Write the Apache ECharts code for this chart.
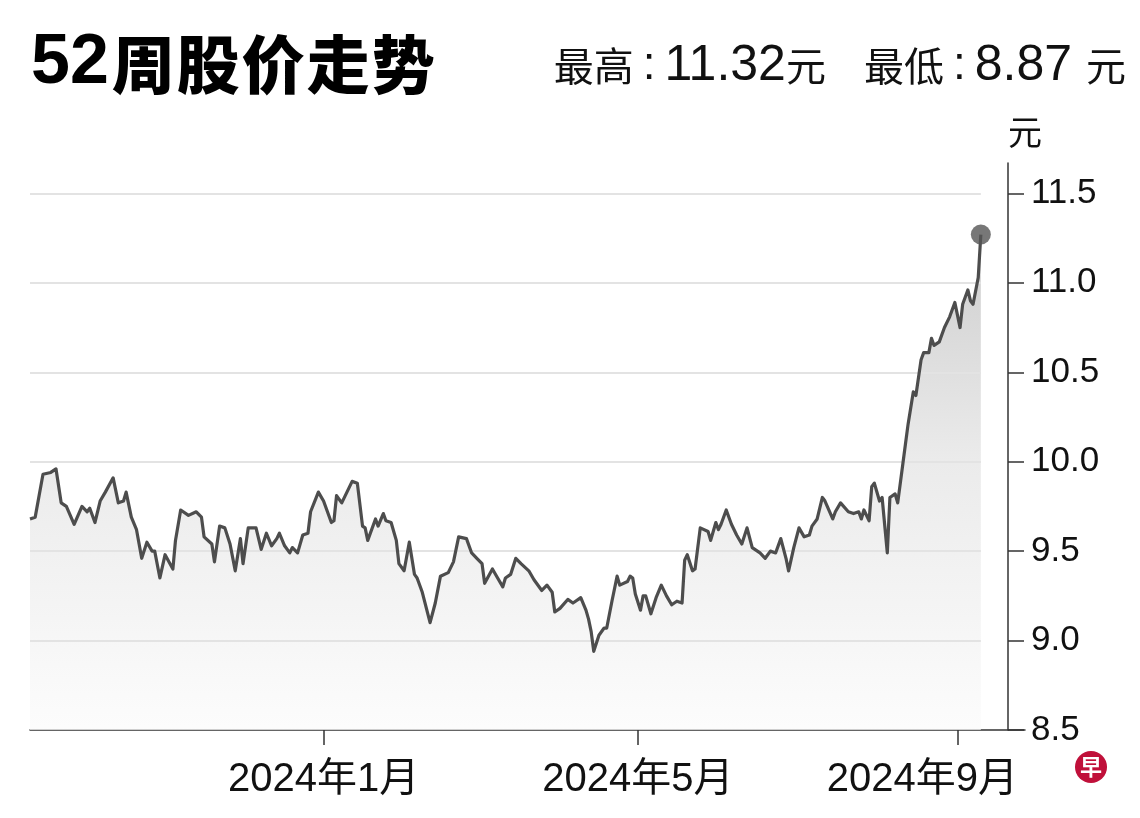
<!DOCTYPE html>
<html>
<head>
<meta charset="utf-8">
<script src="https://cdn.jsdelivr.net/npm/echarts@6/dist/echarts.min.js"></script>
<style>
html,body{margin:0;padding:0;background:#fff;}
#chart{width:1140px;height:818px;}
</style>
</head>
<body>
<div id="chart"></div>
<script>
const dates = [
'2023-09-10','2023-09-12','2023-09-15','2023-09-18','2023-09-20','2023-09-22','2023-09-24','2023-09-27','2023-09-30',
'2023-10-02','2023-10-03','2023-10-05','2023-10-07','2023-10-09','2023-10-12','2023-10-14','2023-10-16','2023-10-17',
'2023-10-19','2023-10-21','2023-10-23','2023-10-25','2023-10-27','2023-10-28','2023-10-30',
'2023-11-01','2023-11-04','2023-11-05','2023-11-07','2023-11-10','2023-11-13','2023-11-15','2023-11-16','2023-11-19',
'2023-11-20','2023-11-22','2023-11-24','2023-11-26','2023-11-28','2023-11-30',
'2023-12-01','2023-12-03','2023-12-06','2023-12-08','2023-12-10','2023-12-12','2023-12-14','2023-12-15','2023-12-17',
'2023-12-19','2023-12-20','2023-12-22','2023-12-24','2023-12-26','2023-12-27','2023-12-30',
'2024-01-01','2024-01-04','2024-01-05','2024-01-06','2024-01-08','2024-01-10','2024-01-12','2024-01-14','2024-01-16',
'2024-01-17','2024-01-18','2024-01-21','2024-01-22','2024-01-24','2024-01-25','2024-01-27','2024-01-29','2024-01-30',
'2024-02-01','2024-02-03','2024-02-05','2024-02-06','2024-02-08','2024-02-11','2024-02-13','2024-02-15','2024-02-18',
'2024-02-20','2024-02-22','2024-02-25','2024-02-27','2024-02-29',
'2024-03-02','2024-03-03','2024-03-06','2024-03-08','2024-03-10','2024-03-11','2024-03-13','2024-03-15','2024-03-17',
'2024-03-20','2024-03-22','2024-03-25','2024-03-27','2024-03-29','2024-03-30',
'2024-04-01','2024-04-04','2024-04-06','2024-04-07','2024-04-09','2024-04-11','2024-04-12','2024-04-13','2024-04-14',
'2024-04-16','2024-04-18','2024-04-19','2024-04-21','2024-04-23','2024-04-24','2024-04-27','2024-04-28','2024-04-29','2024-04-30',
'2024-05-02','2024-05-03','2024-05-04','2024-05-06','2024-05-08','2024-05-10','2024-05-12','2024-05-14','2024-05-16',
'2024-05-18','2024-05-19','2024-05-20','2024-05-22','2024-05-23','2024-05-25','2024-05-28','2024-05-29','2024-05-31',
'2024-06-01','2024-06-02','2024-06-04','2024-06-06','2024-06-08','2024-06-10','2024-06-12','2024-06-14','2024-06-17',
'2024-06-19','2024-06-21','2024-06-23','2024-06-25','2024-06-27','2024-06-28','2024-06-30',
'2024-07-02','2024-07-04','2024-07-06','2024-07-07','2024-07-09','2024-07-11','2024-07-12','2024-07-15','2024-07-16',
'2024-07-18','2024-07-21','2024-07-23','2024-07-25','2024-07-26','2024-07-27','2024-07-29','2024-07-30','2024-07-31',
'2024-08-02','2024-08-03','2024-08-05','2024-08-06','2024-08-08','2024-08-09','2024-08-11','2024-08-12','2024-08-13',
'2024-08-15','2024-08-16','2024-08-18','2024-08-19','2024-08-21','2024-08-22','2024-08-23','2024-08-25','2024-08-27',
'2024-08-29','2024-08-31',
'2024-09-02','2024-09-03','2024-09-05','2024-09-06','2024-09-07','2024-09-09','2024-09-10'
];
const prices = [
9.68,9.69,9.93,9.94,9.96,9.77,9.75,9.65,9.75,
9.72,9.74,9.66,9.78,9.83,9.91,9.77,9.78,9.83,
9.69,9.62,9.46,9.55,9.50,9.50,9.35,
9.48,9.40,9.56,9.73,9.70,9.72,9.69,9.58,9.54,
9.44,9.64,9.63,9.54,9.39,9.57,
9.43,9.63,9.63,9.51,9.60,9.53,9.57,9.60,9.53,
9.49,9.52,9.49,9.59,9.60,9.72,9.83,
9.78,9.66,9.67,9.81,9.77,9.83,9.89,9.88,9.64,
9.63,9.56,9.68,9.64,9.71,9.67,9.66,9.56,9.43,
9.39,9.55,9.37,9.35,9.27,9.10,9.21,9.36,9.38,
9.44,9.58,9.57,9.49,9.46,
9.43,9.32,9.40,9.35,9.30,9.35,9.37,9.46,9.43,
9.39,9.34,9.28,9.31,9.27,9.16,
9.18,9.23,9.21,9.22,9.24,9.17,9.12,9.05,8.94,
9.03,9.07,9.07,9.22,9.36,9.31,9.33,9.36,9.35,9.26,
9.17,9.25,9.25,9.15,9.24,9.31,9.25,9.20,9.22,
9.21,9.45,9.48,9.39,9.40,9.63,9.61,9.56,9.66,
9.62,9.65,9.73,9.65,9.59,9.54,9.63,9.52,9.49,
9.46,9.50,9.49,9.57,9.46,9.39,9.52,
9.63,9.58,9.59,9.64,9.68,9.80,9.78,9.68,9.72,
9.77,9.72,9.71,9.72,9.68,9.73,9.67,9.86,9.88,
9.78,9.80,9.49,9.80,9.82,9.77,9.99,10.10,10.21,
10.39,10.37,10.57,10.61,10.61,10.69,10.65,10.67,10.75,
10.81,10.89,
10.75,10.88,10.96,10.90,10.88,11.03,11.27
];
const yTicks = [8.5, 9, 9.5, 10, 10.5, 11, 11.5];
const gridValues = [9, 9.5, 10, 10.5, 11, 11.5];
const xTickDates = ['2024-01-01', '2024-05-01', '2024-09-01'];
const axisEndDate = '2024-09-27';
const titleText = '52周股价走势';
const highLabel = '最高';
const lowLabel = '最低';
const highText = '11.32';
const lowText = '8.87';
const unitText = '元';

function ts(s) { return new Date(s + 'T00:00:00').getTime(); }

const seriesData = dates.map((d, i) => [ts(d), prices[i]]);
const last = seriesData[seriesData.length - 1];
const xTickValues = xTickDates.map(ts);

const chart = echarts.init(document.getElementById('chart'), null, {renderer: 'canvas'});

const titleRich = '{d|' + titleText.slice(0, 2) + '}' + titleText.slice(2).split('').map(c => '{c|' + c + '}').join('');

const option = {
  backgroundColor: '#fff',
  animation: false,
  title: {
    text: titleRich,
    left: 26,
    top: 24,
    textStyle: {
      rich: {
        d: {fontFamily: 'Liberation Sans, Arial, sans-serif', fontWeight: 'bold', fontSize: 70, color: '#000', padding: [0, 2, 0, 0]},
        c: {fontFamily: 'Noto Sans CJK SC, sans-serif', fontWeight: 900, fontSize: 63, color: '#000', padding: [0, 1, 0, 1]}
      }
    }
  },
  graphic: [
    {
      type: 'text',
      x: 1126, y: 66,
      style: {
        text: '{c|' + highLabel + '}{k|:}{n|' + highText + '}{c|' + unitText + '}{g| }{c|' + lowLabel + '}{k|:}{n|' + lowText + '}{s| }{c|' + unitText + '}',
        align: 'right',
        verticalAlign: 'middle',
        rich: {
          c: {fontFamily: 'Noto Sans CJK SC, sans-serif', fontSize: 40, fill: '#111'},
          k: {fontFamily: 'Liberation Sans, Arial, sans-serif', fontSize: 46, fill: '#111', padding: [0, 9, 0, 9]},
          n: {fontFamily: 'Liberation Sans, Arial, sans-serif', fontSize: 50, fill: '#111'},
          g: {fontSize: 40, width: 38},
          s: {fontSize: 40, width: 14}
        }
      }
    },
    {
      type: 'group',
      children: [
        {type: 'circle', shape: {cx: 1091, cy: 767, r: 16}, style: {fill: '#c0103a'}},
        {type: 'text', x: 1091, y: 767, style: {text: '早', fill: '#fff', fontFamily: 'Noto Sans CJK SC, sans-serif', fontWeight: 'bold', fontSize: 22, align: 'center', verticalAlign: 'middle'}}
      ]
    }
  ],
  grid: {left: 30, right: 115, top: 163, bottom: 88, containLabel: false},
  xAxis: {
    type: 'value',
    min: ts(dates[0]),
    max: ts(axisEndDate),
    axisLine: {show: true, lineStyle: {color: '#333', width: 1.5}},
    axisTick: {show: true, customValues: xTickValues, length: 15, lineStyle: {color: '#333', width: 1.5}},
    axisLabel: {
      customValues: xTickValues,
      margin: 30,
      fontSize: 40,
      color: '#111',
      fontFamily: 'Liberation Sans, Noto Sans CJK SC, sans-serif',
      formatter: function (v) {
        const d = new Date(v);
        const s = d.getFullYear() + '年' + (d.getMonth() + 1) + '月';
        return v === xTickValues[xTickValues.length - 1] ? '{r|' + s + '}' : s;
      },
      rich: {
        r: {fontSize: 40, color: '#111', fontFamily: 'Liberation Sans, Noto Sans CJK SC, sans-serif', padding: [0, 70, 0, 0]}
      }
    },
    splitLine: {show: false}
  },
  yAxis: {
    type: 'value',
    position: 'right',
    offset: -17,
    min: 8.5,
    max: 11.67,
    name: unitText,
    nameLocation: 'end',
    nameGap: 14,
    nameTextStyle: {fontSize: 34, color: '#111', align: 'left', verticalAlign: 'bottom', fontFamily: 'Noto Sans CJK SC, sans-serif'},
    axisLine: {show: true, lineStyle: {color: '#333', width: 1.5}},
    axisTick: {show: true, inside: false, length: 16, customValues: yTicks, lineStyle: {color: '#333', width: 1.5}},
    axisLabel: {
      customValues: yTicks,
      margin: 23,
      fontSize: 35,
      color: '#111',
      fontFamily: 'Liberation Sans, sans-serif',
      formatter: function (v) { return Number(v).toFixed(1); }
    },
    splitLine: {show: false}
  },
  series: [
    {
      type: 'line',
      data: seriesData,
      showSymbol: false,
      z: 1,
      lineStyle: {width: 0},
      areaStyle: {
        origin: 'start',
        color: new echarts.graphic.LinearGradient(0, 0, 0, 1, [
          {offset: 0, color: '#b8b8b8'},
          {offset: 0.45, color: '#e2e2e2'},
          {offset: 1, color: '#fbfbfb'}
        ])
      },
      markLine: {
        silent: true,
        symbol: 'none',
        z: 3,
        label: {show: false},
        lineStyle: {color: '#e3e3e3', width: 2, type: 'solid'},
        data: gridValues.map(v => [{coord: [seriesData[0][0], v]}, {coord: [last[0], v]}])
      }
    },
    {
      type: 'line',
      data: seriesData,
      showSymbol: false,
      z: 10,
      lineStyle: {color: '#4d4d4d', width: 3.2, join: 'round'}
    },
    {
      type: 'scatter',
      data: [last],
      symbol: 'circle',
      symbolSize: 20,
      z: 11,
      itemStyle: {color: '#555'}
    }
  ]
};
chart.setOption(option);
</script>
</body>
</html>
